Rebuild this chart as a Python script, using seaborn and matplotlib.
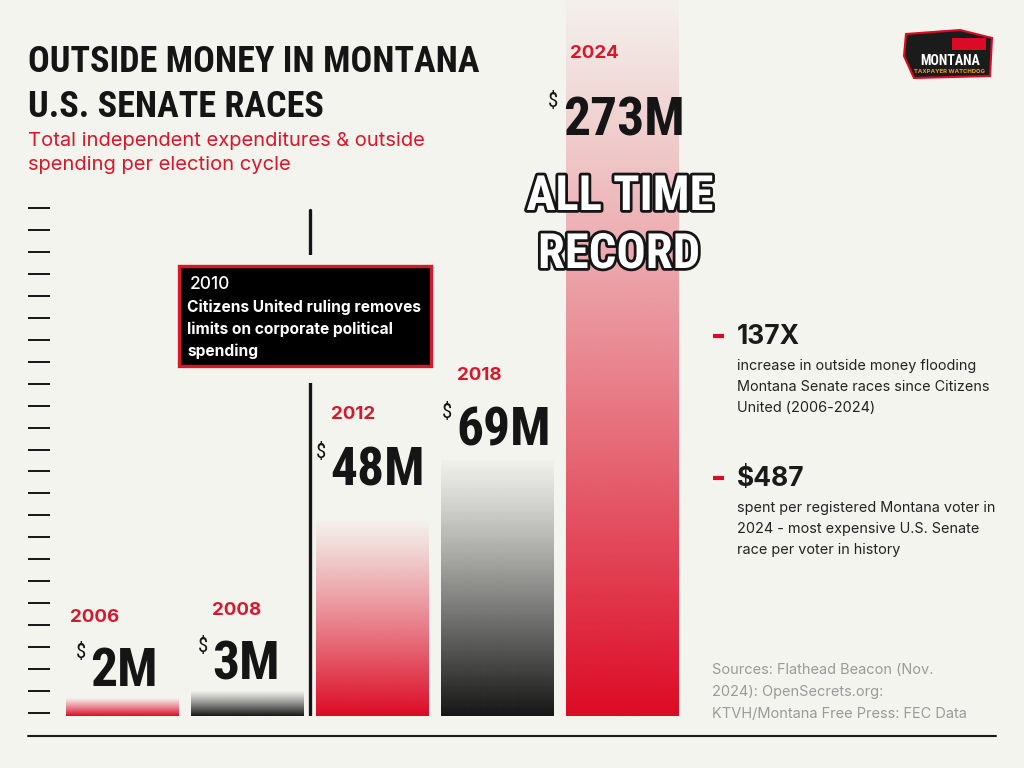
import numpy as np
import matplotlib
matplotlib.use("Agg")
import matplotlib.pyplot as plt
import matplotlib.patheffects as pe
from matplotlib import font_manager
from matplotlib.colors import to_rgb
from matplotlib.lines import Line2D
from matplotlib.patches import Rectangle, FancyBboxPatch, Polygon
import seaborn as sns

# Données
years = ["2006", "2008", "2012", "2018", "2024"]
spend_musd = [2, 3, 48, 69, 273]
stat_heads = ["137X", "$487"]
stat_texts = [
    "increase in outside money flooding\nMontana Senate races since Citizens\nUnited (2006-2024)",
    "spent per registered Montana voter in\n2024 - most expensive U.S. Senate\nrace per voter in history",
]
event_year = "2010"
event_text = "Citizens United ruling removes\nlimits on corporate political\nspending"
sources = "Sources: Flathead Beacon (Nov.\n2024): OpenSecrets.org:\nKTVH/Montana Free Press: FEC Data"

# Style
BG = "#f4f4ef"
RED = "#dc0a24"
LABEL_RED = "#d7182a"
INK = "#151515"
bar_tones = [RED, INK, RED, INK, RED]

installed = {f.name for f in font_manager.fontManager.ttflist}


def pick(*names):
    for n in names:
        if n in installed:
            return n
    return "DejaVu Sans"


COND = pick("Roboto Condensed", "Liberation Sans Narrow", "DejaVu Sans Condensed")
SANS = pick("Inter", "Roboto", "Open Sans", "Lato")

sns.set_style("white", {"axes.facecolor": BG, "figure.facecolor": BG})
plt.rcParams["font.family"] = [SANS, "DejaVu Sans"]

W, H = 1024, 768
fig = plt.figure(figsize=(W / 100, H / 100), dpi=100)
fig.patch.set_facecolor(BG)


def fx(px):
    return px / W


def fy(py):
    return 1 - py / H


# Axe des barres : de x=50px à 690px, du bas (716px) jusqu'en haut de la figure
ax = fig.add_axes([fx(50), fy(716), (690 - 50) / W, 716 / H])
sns.barplot(x=years, y=spend_musd, ax=ax, width=0.9, color=RED, saturation=1)

P = 0.75


def fwd(v):
    return np.sign(v) * np.abs(v) ** P


def inv(t):
    return np.sign(t) * np.abs(t) ** (1 / P)


XLIM = (-0.576, -0.576 + 640 / 125)
ax.set_yscale("function", functions=(fwd, inv))
ax.set_xlim(*XLIM)
ax.set_ylim(0, max(spend_musd))
ax.patch.set_alpha(0)

# graduation décorative à gauche
tick_t = np.linspace(3, 508, 24) / 716 * fwd(max(spend_musd))
ax.set_yticks(inv(tick_t))
ax.tick_params(axis="y", left=True, length=22 * 0.72, width=2 * 0.72, color="#1a1a1a",
               direction="out", labelleft=False)
ax.set_xticks([])
ax.set_xlabel("")
ax.set_ylabel("")
for s in ax.spines.values():
    s.set_visible(False)

# Dégradés dans les barres
to_axes = lambda pts: ax.transAxes.inverted().transform(ax.transData.transform(pts))
extents = []
for bar in ax.patches:
    x0, w, h = bar.get_x(), bar.get_width(), bar.get_height()
    (a0, b0), (a1, b1) = to_axes([(x0, 0), (x0 + w, h)])
    extents.append([a0, a1, b0, min(b1, 1.0)])
for bar, ext, tone in zip(ax.patches, extents, bar_tones):
    rgba = np.zeros((256, 1, 4))
    rgba[..., :3] = to_rgb(tone)
    rgba[:, 0, 3] = np.linspace(0.03, 1.0, 256) ** 1.15
    ax.imshow(rgba, extent=ext, transform=ax.transAxes, aspect="auto",
              interpolation="bilinear", zorder=2)
    bar.set_facecolor("none")
    bar.set_edgecolor("none")
ax.set_xlim(*XLIM)
ax.set_ylim(0, max(spend_musd))

# Ligne 2010 (Citizens United)
ax.axvline(1.5, ymin=0, ymax=506 / 716, color=INK, lw=2.4, zorder=3)

# Titre
fig.text(fx(28), fy(72), "OUTSIDE MONEY IN MONTANA", family=COND, weight="black", size=26, color=INK)
fig.text(fx(28), fy(117), "U.S. SENATE RACES", family=COND, weight="black", size=26, color=INK)
fig.text(fx(28), fy(146), "Total independent expenditures & outside", size=14.5, color=LABEL_RED)
fig.text(fx(28), fy(170), "spending per election cycle", size=14.5, color=LABEL_RED)

# Étiquettes des barres
year_pos = [(70, 622), (212, 615), (331, 419), (457, 380), (570, 58)]
num_pos = [(90, 686), (212, 680), (330, 486), (456, 446), (563, 135)]
dollar_x = [76, 198, 316, 442, 548]
for yr, v, (yx, yb), (nx, nb), dx in zip(years, spend_musd, year_pos, num_pos, dollar_x):
    fig.text(fx(yx), fy(yb), yr, size=13.5, weight="bold", color=LABEL_RED, zorder=4)
    fig.text(fx(nx), fy(nb), f"{v}M", family=COND, weight="black", size=38.5, color=INK, zorder=4)
    fig.text(fx(dx), fy(nb - 28), "$", family=COND, size=15, color=INK, zorder=4)

outline = [pe.Stroke(linewidth=4, foreground=INK), pe.Normal()]
fig.text(fx(620), fy(210), "ALL TIME", family=COND, weight="black", size=35, color="white",
         ha="center", path_effects=outline, zorder=4)
fig.text(fx(619), fy(268), "RECORD", family=COND, weight="black", size=35, color="white",
         ha="center", path_effects=outline, zorder=4)

# Encadré 2010
fig.add_artist(Rectangle((fx(270), fy(383)), 80 / W, (383 - 255) / H, transform=fig.transFigure,
                         facecolor=BG, edgecolor="none", zorder=5))
fig.add_artist(Rectangle((fx(179), fy(366)), (431 - 179) / W, (366 - 266) / H, transform=fig.transFigure,
                         facecolor="black", edgecolor=LABEL_RED, lw=2.4, zorder=6))
fig.text(fx(190), fy(289), event_year, size=12.5, weight="medium", color="white", zorder=7)
for k, line in enumerate(event_text.split("\n")):
    fig.text(fx(187), fy(312 + 22 * k), line, size=11.2, weight="bold", color="white", zorder=7)

# Chiffres clés à droite
for head, txt, base in zip(stat_heads, stat_texts, [344, 486]):
    fig.add_artist(Line2D([fx(713), fx(724)], [fy(base - 8)] * 2, color=RED, lw=3, solid_capstyle="butt"))
    fig.text(fx(737), fy(base), head, size=19, weight="bold", color="#1a1a1a")
    for k, line in enumerate(txt.split("\n")):
        fig.text(fx(737), fy(base + 26 + 21 * k), line, size=10.4, color="#222222")

for k, line in enumerate(sources.split("\n")):
    fig.text(fx(712), fy(674 + 22 * k), line, size=10.5, color="#9a9a9a")

fig.add_artist(Line2D([fx(28), fx(996)], [fy(736)] * 2, color="#1a1a1a", lw=1.5))

# Logo (approximation)
fig.add_artist(Polygon([(fx(906), fy(34)), (fx(960), fy(30)), (fx(992), fy(38)), (fx(990), fy(76)),
                        (fx(914), fy(78)), (fx(904), fy(56))], closed=True, transform=fig.transFigure,
                       facecolor="#1b1b1b", edgecolor=RED, lw=1.5))
fig.add_artist(Rectangle((fx(952), fy(50)), 34 / W, 12 / H, transform=fig.transFigure,
                         facecolor=RED, edgecolor="none"))
fig.text(fx(950), fy(65), "MONTANA", family=COND, weight="black", size=10, color="white", ha="center")
fig.text(fx(950), fy(73), "TAXPAYER WATCHDOG", size=4.3, weight="bold", color="#f0a020", ha="center")

fig.savefig("out.png", dpi=100, facecolor=BG)
